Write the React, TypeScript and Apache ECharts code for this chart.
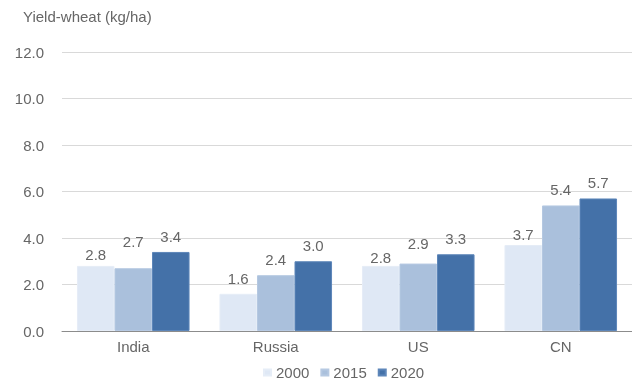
import React, { useEffect, useRef } from "react";
import * as echarts from "echarts";

// Wheat yield by country (kg/ha axis as labelled)
const countries = ["India", "Russia", "US", "CN"];
const years = ["2000", "2015", "2020"];
const yield2000 = [2.8, 1.6, 2.8, 3.7];
const yield2015 = [2.7, 2.4, 2.9, 5.4];
const yield2020 = [3.4, 3.0, 3.3, 5.7];

const seriesValues = [yield2000, yield2015, yield2020];
const seriesColors = ["#dfe8f5", "#aac0dc", "#4471a8"];
const seriesBorders = ["#e6edf7", "#b6c9e2", "#5d86b9"];

// Vertical nudges for individual value labels (px, positive = down)
const labelNudge = [
  [4, 0, 7, 5],
  [-11, 0, -5, 0],
  [0, 0, 0, 0],
];

const textColor = "#666666";
const fontFamily = "'Liberation Sans', Arial, sans-serif";
const fontSize = 15;

export default function App() {
  const ref = useRef<HTMLDivElement>(null);

  useEffect(() => {
    if (!ref.current) return;
    const chart = echarts.init(ref.current, undefined, { renderer: "svg" });

    chart.setOption({
      animation: false,
      textStyle: { fontFamily, color: textColor },
      title: {
        text: "Yield-wheat (kg/ha)",
        left: 18,
        top: 4,
        textStyle: { fontSize, fontWeight: "normal", color: textColor, fontFamily },
      },
      legend: {
        data: years,
        top: 360,
        left: 258,
        itemWidth: 7,
        itemHeight: 6,
        itemGap: 11,
        icon: "rect",
        textStyle: { fontSize, color: textColor, fontFamily },
      },
      grid: { left: 62, right: 0, top: 52, bottom: 50 },
      xAxis: {
        type: "category",
        data: countries,
        axisTick: { show: false },
        axisLine: { lineStyle: { color: "#8c8c8c", width: 1 } },
        axisLabel: { fontSize, color: textColor, margin: 8, fontFamily },
      },
      yAxis: {
        type: "value",
        min: 0,
        max: 12,
        interval: 2,
        axisLabel: {
          fontSize,
          color: textColor,
          margin: 18,
          fontFamily,
          formatter: (v: number) => v.toFixed(1),
        },
        splitLine: { lineStyle: { color: "#d9d9d9", width: 1 } },
        axisLine: { show: false },
        axisTick: { show: false },
      },
      series: years.map((y, si) => ({
        name: y,
        type: "bar",
        barGap: "0%",
        barCategoryGap: "21%",
        itemStyle: {
          color: seriesColors[si],
          borderColor: seriesBorders[si],
          borderWidth: 1,
        },
        label: {
          show: true,
          position: "top",
          distance: 8,
          fontSize,
          color: textColor,
          fontFamily,
          formatter: (p: any) => Number(p.value).toFixed(1),
        },
        data: seriesValues[si].map((v, ci) => ({
          value: v,
          label: { offset: [0, labelNudge[si][ci]] },
        })),
      })),
    });

    return () => chart.dispose();
  }, []);

  return (
    <div
      ref={ref}
      style={{ position: "fixed", left: 0, top: 0, width: 632, height: 381 }}
    />
  );
}
